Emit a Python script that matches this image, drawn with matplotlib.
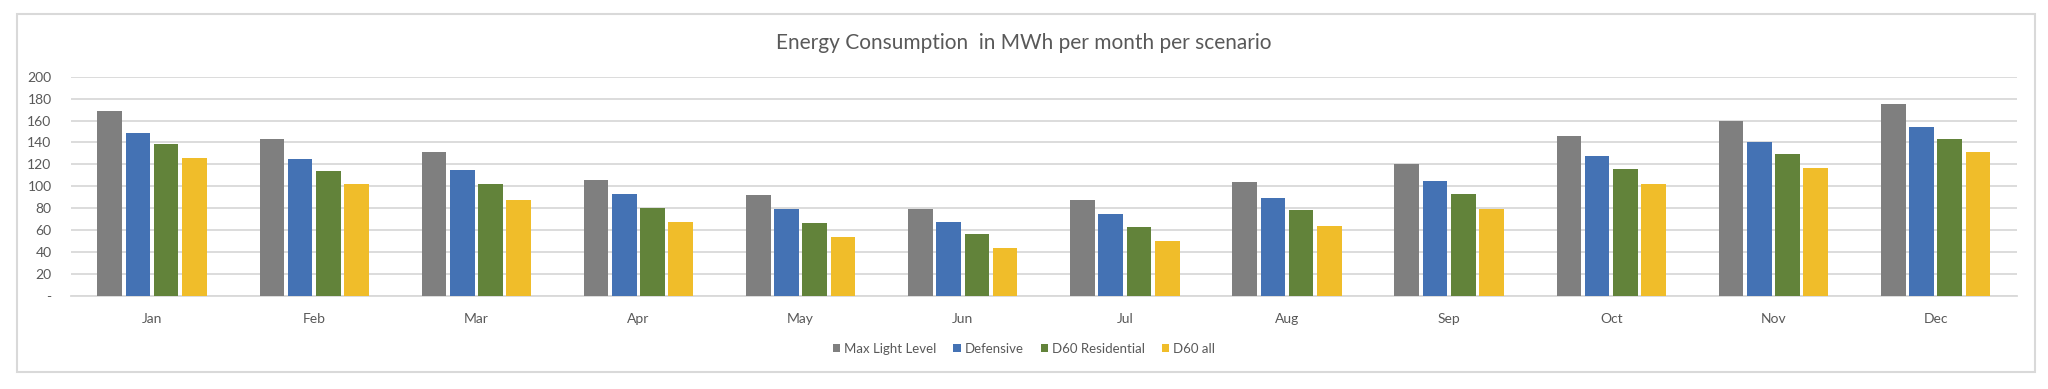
import matplotlib.pyplot as plt
from matplotlib.patches import Rectangle
import numpy as np

months = ["Jan", "Feb", "Mar", "Apr", "May", "Jun", "Jul", "Aug", "Sep", "Oct", "Nov", "Dec"]
scenarios = ["Max Light Level", "Defensive", "D60 Residential", "D60 all"]
max_light = [169, 143, 131, 106, 92, 79, 87.5, 104, 120.5, 145.5, 159.5, 175]
defensive = [149, 125, 115, 93, 79, 67.5, 75, 89.5, 105, 128, 140, 154]
d60_res = [138.5, 114, 102, 80, 67, 56.5, 63, 78, 93, 115.5, 129.5, 143.5]
d60_all = [126, 102, 88, 67.5, 54, 44, 50.5, 64, 79, 102, 117, 131]
colors = ["#7f7f7f", "#4472b4", "#62833a", "#f0bd2a"]

plt.rcParams['font.family'] = ['Lato', 'DejaVu Sans']

fig = plt.figure(figsize=(20.48, 3.89), dpi=100)
# outer chart border like the Excel chart area
fig.patches.append(Rectangle((17 / 2048, 1 - 372 / 389), (2035 - 17) / 2048, (372 - 14) / 389,
                             transform=fig.transFigure, fill=False, edgecolor="#d9d9d9", linewidth=1.5))

ax = fig.add_axes([71 / 2048, 1 - 296 / 389, (2016.6 - 71) / 2048, (296 - 76.7) / 389])

x = np.arange(len(months))
slot = 0.174
width = 0.152
series = [max_light, defensive, d60_res, d60_all]
for i, (vals, name, c) in enumerate(zip(series, scenarios, colors)):
    ax.bar(x + (i - 1.5) * slot, vals, width, color=c, label=name, zorder=3)

ax.set_xlim(-0.5, len(months) - 0.5)
ax.set_ylim(0, 200)
yt = list(range(0, 201, 20))
ax.set_yticks(yt)
ax.set_yticklabels(["-" if v == 0 else str(v) for v in yt])
ax.set_xticks(x)
ax.set_xticklabels(months)
ax.tick_params(axis="both", length=0, labelsize=10, colors="#595959")
ax.tick_params(axis="x", pad=12)
ax.tick_params(axis="y", pad=14)
ax.grid(axis="y", color="#d9d9d9", linewidth=1.3, zorder=0)
for s in ["top", "right", "left"]:
    ax.spines[s].set_visible(False)
ax.spines["bottom"].set_color("#d9d9d9")
ax.spines["bottom"].set_linewidth(1.3)

fig.text(0.5, 1 - 43 / 389, "Energy Consumption  in MWh per month per scenario",
         ha="center", va="center", fontsize=15, color="#595959")

leg = fig.legend(loc="center", bbox_to_anchor=(0.5, 1 - 349 / 389), ncol=4, frameon=False,
                 fontsize=9.5, handlelength=0.55, handleheight=0.55, handletextpad=0.3,
                 columnspacing=1.3)
for t in leg.get_texts():
    t.set_color("#595959")

fig.savefig("out.png", dpi=100)
